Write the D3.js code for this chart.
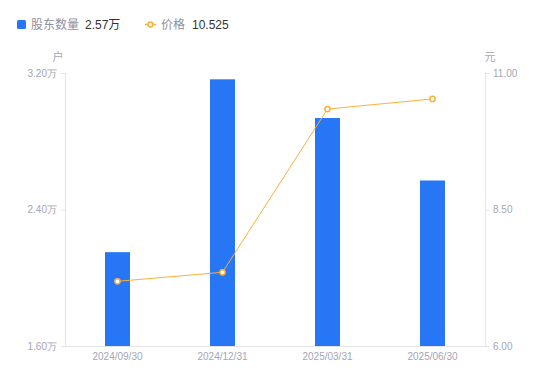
<!DOCTYPE html>
<html>
<head>
<meta charset="utf-8">
<script src="https://cdn.jsdelivr.net/npm/d3@7"></script>
<style>
  html, body { margin: 0; padding: 0; background: #fff; }
  svg { display: block; font-family: "Liberation Sans", Arial, "Noto Sans CJK SC", sans-serif; }
</style>
</head>
<body>
<svg id="chart" width="550" height="381"></svg>
<script>
const dates = ['2024/09/30', '2024/12/31', '2025/03/31', '2025/06/30'];
const holders = [2.15, 3.163, 2.936, 2.57];   // 万户
const prices = [7.185, 7.35, 10.34, 10.525];  // 元
const leftTicks = [1.6, 2.4, 3.2];
const rightTicks = [6, 8.5, 11];

const blue = '#2676f5';
const orange = '#fbb03b';
const axisColor = '#e3e4e8';
const labelColor = '#a3a5b6';

const margin = { top: 73, right: 65, bottom: 35, left: 65 };
const width = 550 - margin.left - margin.right;
const height = 381 - margin.top - margin.bottom;

const svg = d3.select('#chart');
const g = svg.append('g').attr('transform', `translate(${margin.left},${margin.top})`);

const x = d3.scaleBand().domain(dates).range([0, width]);
const yL = d3.scaleLinear().domain([1.6, 3.2]).range([height, 0]);
const yR = d3.scaleLinear().domain([6, 11]).range([height, 0]);

// left axis
const leftAxis = g.append('g')
  .call(d3.axisLeft(yL).tickValues(leftTicks).tickSize(4).tickPadding(4)
        .tickFormat(d => d3.format('.2f')(d) + '万'));
// right axis
const rightAxis = g.append('g')
  .attr('transform', `translate(${width},0)`)
  .call(d3.axisRight(yR).tickValues(rightTicks).tickSize(4).tickPadding(4)
        .tickFormat(d3.format('.2f')));
// bottom axis
const bottomAxis = g.append('g')
  .attr('transform', `translate(0,${height})`)
  .call(d3.axisBottom(x).tickSize(0).tickPadding(7));

[leftAxis, rightAxis, bottomAxis].forEach(a => {
  a.select('.domain').attr('stroke', axisColor);
  a.selectAll('.tick line').attr('stroke', axisColor);
  a.selectAll('.tick text')
   .attr('fill', labelColor)
   .style('font-size', '10px');
});
bottomAxis.select('.domain').attr('d', `M-4,0.5H${width + 4}`);

// unit labels
g.append('text').attr('x', -7).attr('y', -12)
 .attr('text-anchor', 'middle').attr('fill', labelColor)
 .style('font-size', '11px').text('户');
g.append('text').attr('x', width + 5).attr('y', -12)
 .attr('text-anchor', 'middle').attr('fill', labelColor)
 .style('font-size', '11px').text('元');

// bars
const barW = 25;
g.selectAll('.bar')
  .data(holders)
  .enter().append('rect')
  .attr('class', 'bar')
  .attr('x', (d, i) => x(dates[i]) + x.bandwidth() / 2 - barW / 2)
  .attr('y', d => yL(d))
  .attr('width', barW)
  .attr('height', d => height - yL(d))
  .attr('fill', blue);

// price line
const line = d3.line()
  .x((d, i) => x(dates[i]) + x.bandwidth() / 2)
  .y(d => yR(d));

g.append('path')
  .datum(prices)
  .attr('fill', 'none')
  .attr('stroke', orange)
  .attr('stroke-width', 1)
  .attr('d', line);

g.selectAll('.dot')
  .data(prices)
  .enter().append('circle')
  .attr('class', 'dot')
  .attr('cx', (d, i) => x(dates[i]) + x.bandwidth() / 2)
  .attr('cy', d => yR(d))
  .attr('r', 2.6)
  .attr('fill', '#fff')
  .attr('stroke', orange)
  .attr('stroke-width', 1.5);

// legend
const legend = svg.append('g');
legend.append('rect')
  .attr('x', 17).attr('y', 20).attr('width', 9).attr('height', 9)
  .attr('rx', 1.5).attr('fill', blue);
legend.append('text').attr('x', 31).attr('y', 29)
  .attr('fill', '#8e909f').style('font-size', '12px').text('股东数量');
legend.append('text').attr('x', 85).attr('y', 29)
  .attr('fill', '#333').style('font-size', '12px')
  .text(d3.format('.2f')(holders[3]) + '万');

legend.append('line')
  .attr('x1', 145).attr('x2', 156).attr('y1', 24.5).attr('y2', 24.5)
  .attr('stroke', orange).attr('stroke-width', 1.5);
legend.append('circle')
  .attr('cx', 150.5).attr('cy', 24.5).attr('r', 2.5)
  .attr('fill', '#fff').attr('stroke', orange).attr('stroke-width', 1.5);
legend.append('text').attr('x', 161).attr('y', 29)
  .attr('fill', '#8e909f').style('font-size', '12px').text('价格');
legend.append('text').attr('x', 192).attr('y', 29)
  .attr('fill', '#333').style('font-size', '12px')
  .text(String(prices[3]));
</script>
</body>
</html>
